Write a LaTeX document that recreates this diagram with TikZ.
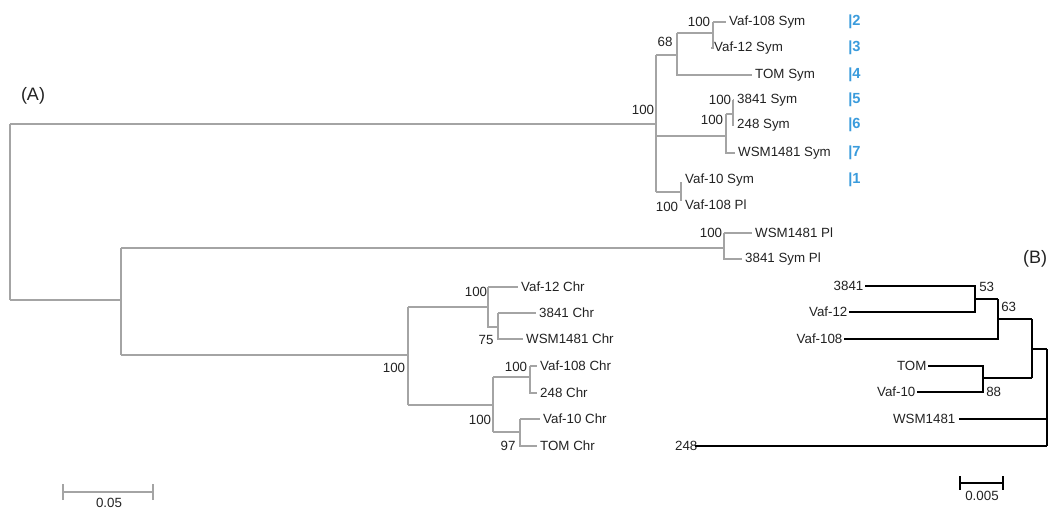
\documentclass[tikz,border=0pt]{standalone}
\usepackage{fontspec}
\setmainfont{Liberation Sans}
\definecolor{treegray}{HTML}{A4A4A4}
\definecolor{labblue}{HTML}{3A9BDC}
\definecolor{txt}{HTML}{222222}
\begin{document}
\begin{tikzpicture}[x=0.75pt,y=-0.75pt,
  ga/.style={draw=treegray,line width=0.8pt},
  gb/.style={draw=black,line width=1.1pt},
  leaf/.style={anchor=west,inner sep=2.2pt,font=\fontsize{10}{12}\selectfont,text=txt},
  leafb/.style={anchor=east,inner sep=1pt,font=\fontsize{10}{12}\selectfont,text=txt},
  boot/.style={inner sep=0pt,font=\fontsize{10}{12}\selectfont,text=txt},
  num/.style={anchor=west,inner sep=0pt,font=\bfseries\fontsize{11}{13}\selectfont,text=labblue},
  panel/.style={inner sep=0pt,font=\fontsize{13.5}{16}\selectfont,text=txt}]
\useasboundingbox (0,0) rectangle (1050,510);
% ---------------- Tree A ----------------
\coordinate (r) at (10,212);
\coordinate (sym) at (656,124);
\coordinate (low) at (121,300);
\coordinate (pl) at (724,248);
\coordinate (chr) at (408,355);
% sym clade
\coordinate (s1) at (677,55);
\coordinate (s2) at (713,33);
\coordinate (s3) at (726,136);
\coordinate (s4) at (733,114);
\coordinate (s5) at (681,192);
\node[leaf] (vaf108s) at (726,22) {Vaf-108 Sym};
\node[leaf] (vaf12s) at (711,48) {Vaf-12 Sym};
\node[leaf] (toms) at (752,75) {TOM Sym};
\node[leaf] (s3841) at (734,100) {3841 Sym};
\node[leaf] (s248) at (734,125) {248 Sym};
\node[leaf] (wsms) at (735,153) {WSM1481 Sym};
\node[leaf] (vaf10s) at (682,180) {Vaf-10 Sym};
\node[leaf] (vaf108pl) at (682,205) {Vaf-108 Pl};
% plasmid clade
\node[leaf] (wsmpl) at (752,233) {WSM1481 Pl};
\node[leaf] (p3841) at (742,259) {3841 Sym Pl};
% chr clade
\coordinate (c1) at (488,307);
\coordinate (c2) at (498,327);
\coordinate (c3) at (493,405);
\coordinate (c4) at (530,377);
\coordinate (c5) at (520,432);
\node[leaf] (vaf12c) at (518,287) {Vaf-12 Chr};
\node[leaf] (c3841) at (536,313) {3841 Chr};
\node[leaf] (wsmc) at (523,339) {WSM1481 Chr};
\node[leaf] (vaf108c) at (537,366) {Vaf-108 Chr};
\node[leaf] (c248) at (537,393) {248 Chr};
\node[leaf] (vaf10c) at (540,419) {Vaf-10 Chr};
\node[leaf] (tomc) at (537,446) {TOM Chr};
% edges
\path[ga] (r |- sym) -- (r |- low);
\path[ga] (r |- sym) -- (sym);
\path[ga] (r |- low) -- (low);
\path[ga] (sym |- s1) -- (sym |- s5);
\path[ga] (sym |- s1) -- (s1);
\path[ga] (sym |- s3) -- (s3);
\path[ga] (sym |- s5) -- (s5);
\path[ga] (s1 |- s2) -- (s1 |- toms.west) -- (toms.west);
\path[ga] (s1 |- s2) -- (s2);
\path[ga] (s2 |- vaf108s.west) -- (s2 |- vaf12s.west) -- (vaf12s.west);
\path[ga] (s2 |- vaf108s.west) -- (vaf108s.west);
\path[ga] (s3 |- s4) -- (s3 |- wsms.west) -- (wsms.west);
\path[ga] (s3 |- s4) -- (s4);
\path[ga] (s4 |- s3841.west) -- (s4 |- s248.west) -- (s248.west);
\path[ga] (s4 |- s3841.west) -- (s3841.west);
\path[ga] (681,182) -- (681,201);
\path[ga] (low |- pl) -- (low |- chr);
\path[ga] (low |- pl) -- (pl);
\path[ga] (pl |- wsmpl.west) -- (pl |- p3841.west) -- (p3841.west);
\path[ga] (pl |- wsmpl.west) -- (wsmpl.west);
\path[ga] (low |- chr) -- (chr);
\path[ga] (chr |- c1) -- (chr |- c3);
\path[ga] (chr |- c1) -- (c1);
\path[ga] (chr |- c3) -- (c3);
\path[ga] (c1 |- vaf12c.west) -- (c1 |- c2) -- (c2);
\path[ga] (c1 |- vaf12c.west) -- (vaf12c.west);
\path[ga] (c2 |- c3841.west) -- (c2 |- wsmc.west) -- (wsmc.west);
\path[ga] (c2 |- c3841.west) -- (c3841.west);
\path[ga] (c3 |- c4) -- (c3 |- c5);
\path[ga] (c3 |- c4) -- (c4);
\path[ga] (c3 |- c5) -- (c5);
\path[ga] (c4 |- vaf108c.west) -- (c4 |- c248.west) -- (c248.west);
\path[ga] (c4 |- vaf108c.west) -- (vaf108c.west);
\path[ga] (c5 |- vaf10c.west) -- (c5 |- tomc.west) -- (tomc.west);
\path[ga] (c5 |- vaf10c.west) -- (vaf10c.west);
% bootstrap A
\node[boot] (b1) at (699,22) {100};
\node[boot] (b2) at (665,42) {68};
\node[boot] (b3) at (643,110) {100};
\node[boot] (b4) at (720,100) {100};
\node[boot] (b5) at (712,120) {100};
\node[boot] (b6) at (667,207) {100};
\node[boot] (b7) at (711,233) {100};
\node[boot] (b8) at (476,292) {100};
\node[boot] (b9) at (486,340) {75};
\node[boot] (b10) at (394,368) {100};
\node[boot] (b11) at (516,367) {100};
\node[boot] (b12) at (480,420) {100};
\node[boot] (b13) at (508,446) {97};
% blue numbers
\node[num] (n2) at (848,22) {|2};
\node[num] (n3) at (848,48) {|3};
\node[num] (n4) at (848,75) {|4};
\node[num] (n5) at (848,100) {|5};
\node[num] (n6) at (848,125) {|6};
\node[num] (n7) at (848,153) {|7};
\node[num] (n1) at (848,180) {|1};
\node[panel] (pa) at (33,96) {(A)};
% scale bar A
\coordinate (sa1) at (63,492);
\coordinate (sa2) at (153,492);
\path[ga] (sa1) -- (sa2);
\path[ga] ([yshift=-6]sa1) -- ([yshift=6]sa1);
\path[ga] ([yshift=-6]sa2) -- ([yshift=6]sa2);
\node[boot] (sal) at (109,503) {0.05};
% ---------------- Tree B ----------------
\node[panel] (pb) at (1035,259) {(B)};
\coordinate (d1) at (975,299);
\coordinate (d2) at (998,319);
\coordinate (d3) at (983,378);
\coordinate (d4) at (1032,349);
\coordinate (d5) at (1047,397);
\node[leafb] (b3841) at (865,286) {3841};
\node[leafb] (bvaf12) at (849,312) {Vaf-12};
\node[leafb] (bvaf108) at (844,339) {Vaf-108};
\node[leafb] (btom) at (928,366) {TOM};
\node[leafb] (bvaf10) at (917,392) {Vaf-10};
\node[leafb,inner sep=2.5pt] (bwsm) at (959,419) {WSM1481};
\node[leafb] (b248) at (699,446) {248};
\path[gb] (b3841.east) -- (d1 |- b3841.east) -- (d1 |- bvaf12.east) -- (bvaf12.east);
\path[gb] (d1) -- (d2 |- d1);
\path[gb] (d2 |- d1) -- (d2 |- bvaf108.east) -- (bvaf108.east);
\path[gb] (btom.east) -- (d3 |- btom.east) -- (d3 |- bvaf10.east) -- (bvaf10.east);
\path[gb] (d2) -- (d4 |- d2);
\path[gb] (d3) -- (d4 |- d3);
\path[gb] (d4 |- d2) -- (d4 |- d3);
\path[gb] (d4) -- (d5 |- d4);
\path[gb] (d5 |- d4) -- (d5 |- b248.east);
\path[gb] (bwsm.east) -- (d5 |- bwsm.east);
\path[gb] ([xshift=-3]b248.east) -- (d5 |- b248.east);
\node[boot,anchor=west] (bb1) at (979,287) {53};
\node[boot,anchor=west] (bb2) at (1001,307) {63};
\node[boot,anchor=west] (bb3) at (986,392) {88};
% scale bar B
\coordinate (sb1) at (960,483);
\coordinate (sb2) at (1003,483);
\path[gb] (sb1) -- (sb2);
\path[gb] ([yshift=-5]sb1) -- ([yshift=5]sb1);
\path[gb] ([yshift=-5]sb2) -- ([yshift=5]sb2);
\node[boot] (sbl) at (982,496) {0.005};
\end{tikzpicture}
\end{document}
